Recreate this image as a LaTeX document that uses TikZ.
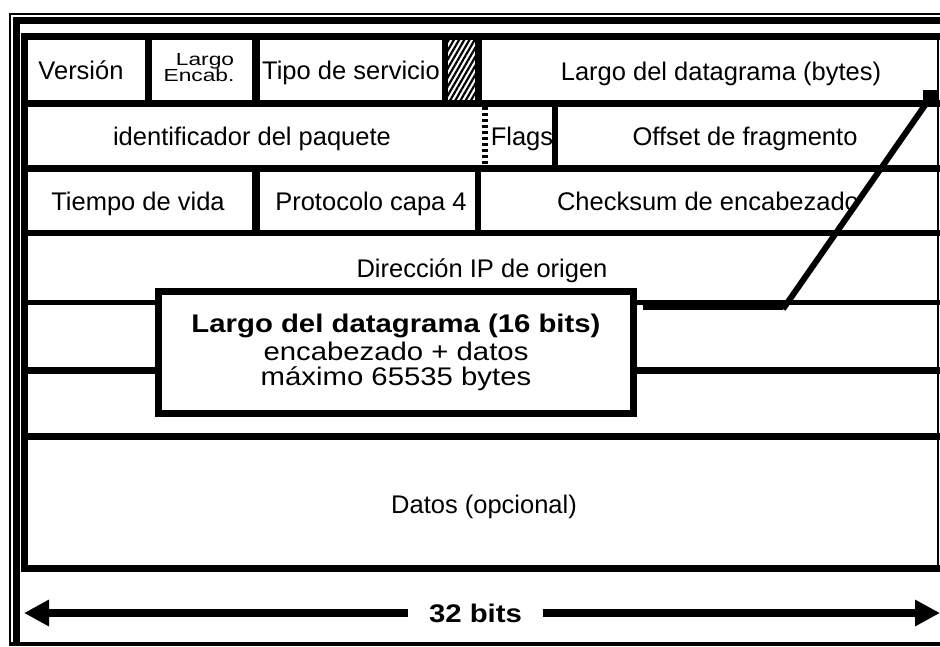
\documentclass[tikz,border=0pt]{standalone}
\usepackage{fontspec}
\setmainfont{Liberation Sans}
\newfontfamily\widefont[FakeStretch=1.15]{Liberation Sans}
\newfontfamily\widerfont[FakeStretch=1.3]{Liberation Sans}
\usetikzlibrary{arrows.meta,patterns.meta}
\begin{document}
\begin{tikzpicture}[x=1pt,y=-1pt,
  lbl/.style={font=\fontsize{25.5}{28}\selectfont, inner sep=0pt, anchor=base},
  wlbl/.style={font=\widefont\fontsize{25.5}{28}\selectfont, inner sep=0pt, anchor=base},
  blbl/.style={font=\widefont\bfseries\fontsize{25.5}{28}\selectfont, inner sep=0pt, anchor=base},
  slbl/.style={font=\widerfont\fontsize{17.5}{14}\selectfont, inner sep=0pt, anchor=base},
  leader/.style={draw=black, line cap=butt},
  dimarrow/.style={draw=black, line width=8pt, -{Triangle[length=25pt,width=25pt]}},
]
\useasboundingbox (0,0) rectangle (940,646);
\fill[white] (0,0) rectangle (940,646);

% outer frame
\fill[black] (9,13) rectangle (940,15);
\fill[black] (9,13) rectangle (11,646);
\fill[black] (13,17) rectangle (940,24);
\fill[black] (13,17) rectangle (20,646);
\fill[black] (9,642) rectangle (940,646);

% table outline
\fill[black] (21,33) rectangle (940,40);
\fill[black] (21,33) rectangle (28,572);
\fill[black] (937,40) rectangle (939,572);

% row separators
\fill[black] (21,100) rectangle (940,107);
\fill[black] (21,165) rectangle (940,172);
\fill[black] (21,230) rectangle (940,236);
\fill[black] (21,300) rectangle (940,305);
\fill[black] (21,367) rectangle (940,374);
\fill[black] (21,433) rectangle (940,440);
\fill[black] (21,565) rectangle (940,572);

% row 1 verticals
\fill[black] (145,40) rectangle (152,100);
\fill[black] (252,40) rectangle (260,100);
\fill[black] (442,40) rectangle (448,100);
\fill[pattern={Lines[angle=60,distance=4.5pt,line width=2.2pt]}] (448,40) rectangle (475,100);
\fill[black] (475,40) rectangle (482,100);

% row 2 verticals
\draw[black, line width=6pt, dash pattern=on 3pt off 3pt] (485,107) -- (485,165);
\fill[black] (552,107) rectangle (558,165);

% row 3 verticals
\fill[black] (252,172) rectangle (260,230);
\fill[black] (475,172) rectangle (481,230);

% texts
\node[lbl] (version) at (81,79) {Versión};
\node[slbl] (largo) at (205,65) {Largo};
\node[slbl] (encab) at (199,81) {Encab.};
\node[lbl] (tipo) at (351,79) {Tipo de servicio};
\node[lbl] (largodg) at (721,80) {Largo del datagrama (bytes)};
\node[lbl] (ident) at (252,145) {identificador del paquete};
\node[lbl] (flags) at (522,145) {Flags};
\node[lbl] (offset) at (745,145) {Offset de fragmento};
\node[lbl] (tiempo) at (138,210) {Tiempo de vida};
\node[lbl] (proto) at (371,210) {Protocolo capa 4};
\node[lbl] (check) at (708,210) {Checksum de encabezado};
\node[lbl] (dirip) at (482,277) {Dirección IP de origen};
\node[lbl] (datos) at (484,513) {Datos (opcional)};

% callout box
\node[draw=black, fill=white, line width=7pt, minimum width=475pt, minimum height=122pt, inner sep=0pt] (callout) at (396,352.5) {};
\node[blbl] (c1) at (396,332) {Largo del datagrama (16 bits)};
\node[wlbl] (c2) at (396,360) {encabezado + datos};
\node[wlbl] (c3) at (396,385) {máximo 65535 bytes};

% leader line
\coordinate (lstart) at (643,306);
\coordinate (bend) at (783,306);
\coordinate (tip) at (930,98);
\draw[leader, line width=8pt] (lstart) -- (bend);
\draw[leader, line width=6pt] ([yshift=-3pt]bend) -- (tip);
\fill[black] (923,90) rectangle (938,106);

% 32 bits dimension
\node[font=\widefont\bfseries\fontsize{25.5}{28}\selectfont, inner xsep=21pt, inner ysep=0pt] (bits) at (475.5,613) {32 bits};
\coordinate (larr) at (24,613);
\coordinate (rarr) at (940,613);
\draw[dimarrow] (bits.west) -- (larr);
\draw[dimarrow] (bits.east) -- (rarr);
\end{tikzpicture}
\end{document}
